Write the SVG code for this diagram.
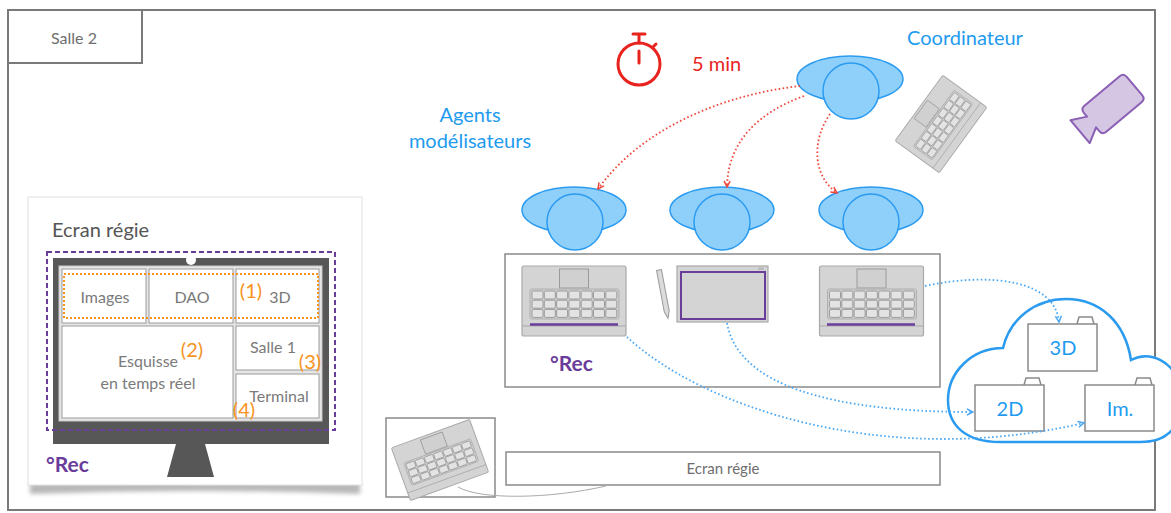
<svg xmlns="http://www.w3.org/2000/svg" width="1171" height="513" viewBox="0 0 1171 513">
  <defs>
    <style>
      text { font-family: Lato, "Open Sans", "Liberation Sans", sans-serif; }
      .frame { fill: none; stroke: #7a7a7a; stroke-width: 2; }
      .box { fill: #fff; stroke: #8a8a8a; stroke-width: 1.5; }
      .label { fill: #6e6e6e; }
      .screen-t { fill: #7a7a7a; font-size: 16px; }
      .blue-t { fill: #1e9bf0; font-size: 20px; }
      .orange-t { fill: #f7931e; font-size: 20px; }
      .rec { fill: #6a3d9a; font-size: 21px; font-weight: bold; }
      .person { fill: #8fd0fb; stroke: #2b9bf0; stroke-width: 1.5; }
      .red-dot { fill: none; stroke: #f0473a; stroke-width: 1.8; stroke-dasharray: 1.6 2.4; }
      .blue-dot { fill: none; stroke: #4aa8f5; stroke-width: 1.8; stroke-dasharray: 1.6 2.4; }
      .lap-body { fill: #d4d4d4; stroke: #a9a9a9; stroke-width: 1.2; }
      .key { fill: #e3e3e3; stroke: #9c9c9c; stroke-width: 1; }
      .folder { fill: #fff; stroke: #8a8a8a; stroke-width: 1.5; }
      .cell { fill: #fff; stroke: #9a9a9a; stroke-width: 1; }
      .rec-line { stroke: #6a3d9a; stroke-width: 2.5; }
    </style>
    <marker id="arrowRed" viewBox="0 0 8 8" refX="7" refY="4" markerWidth="8" markerHeight="8" orient="auto" markerUnits="userSpaceOnUse">
      <path d="M1,1 L7,4 L1,7" fill="none" stroke="#f0473a" stroke-width="1.5"/>
    </marker>
    <marker id="arrowBlue" viewBox="0 0 8 8" refX="7" refY="4" markerWidth="8" markerHeight="8" orient="auto" markerUnits="userSpaceOnUse">
      <path d="M1,1 L7,4 L1,7" fill="none" stroke="#4aa8f5" stroke-width="1.5"/>
    </marker>
    <filter id="soft" x="-10%" y="-100%" width="120%" height="300%">
      <feGaussianBlur stdDeviation="2"/>
    </filter>
    <!-- one row of seven keys -->
    <g id="keyRow">
      <rect class="key" x="-42" y="0" width="11" height="8" rx="1.5"/>
      <rect class="key" x="-29.7" y="0" width="11" height="8" rx="1.5"/>
      <rect class="key" x="-17.4" y="0" width="11" height="8" rx="1.5"/>
      <rect class="key" x="-5.1" y="0" width="11" height="8" rx="1.5"/>
      <rect class="key" x="7.2" y="0" width="11" height="8" rx="1.5"/>
      <rect class="key" x="19.5" y="0" width="11" height="8" rx="1.5"/>
      <rect class="key" x="31.8" y="0" width="11" height="8" rx="1.5"/>
    </g>
    <!-- open laptop seen from above, centred on the origin -->
    <g id="laptopBase">
      <rect class="lap-body" x="-52" y="-35" width="104" height="70" rx="2"/>
      <rect x="-14.5" y="-32" width="29" height="19" fill="#d0d0d0" stroke="#9a9a9a" stroke-width="1"/>
      <rect x="-44" y="-12" width="89" height="30" rx="2" fill="#cdcdcd" stroke="#b0b0b0" stroke-width="1"/>
      <use href="#keyRow" y="-10"/>
      <use href="#keyRow" y="-0.8"/>
      <use href="#keyRow" y="8.4"/>
      <line x1="-52" y1="25" x2="52" y2="25" stroke="#a9a9a9" stroke-width="1"/>
    </g>
  </defs>

  <!-- room outline -->
  <g id="room">
    <rect class="frame" x="8" y="10" width="1147" height="500"/>
  </g>
  <g id="salle2">
    <rect class="frame" x="8" y="10" width="134" height="53"/>
    <text class="label" x="74" y="44" font-size="16" text-anchor="middle">Salle 2</text>
  </g>

  <!-- control screen panel -->
  <g id="panel-ecran-regie">
    <path d="M30 483 L360 483 L360 494 Q195 488 30 494 Z" fill="#9a9a9a" opacity="0.7" filter="url(#soft)"/>
    <rect x="28" y="197" width="334" height="288" fill="#fff" stroke="#e0e0e0" stroke-width="1"/>
    <text x="52" y="237" font-size="20" fill="#555">Ecran régie</text>
    <rect x="53" y="258" width="276" height="186" fill="#575757"/>
    <circle cx="191" cy="260" r="5" fill="#fff"/>
    <polygon points="176,444 205,444 214,477 167,477" fill="#575757"/>
    <rect x="59" y="266" width="263" height="155" fill="#e6e6e6" stroke="#c8c8c8"/>
    <rect class="cell" x="62" y="269" width="84" height="54"/>
    <rect class="cell" x="149" y="269" width="84" height="54"/>
    <rect class="cell" x="236" y="269" width="83" height="54"/>
    <rect class="cell" x="62" y="326" width="171" height="92"/>
    <rect class="cell" x="236" y="326" width="83" height="44"/>
    <rect class="cell" x="236" y="374" width="83" height="44"/>
    <rect x="64" y="274" width="254" height="44" fill="none" stroke="#f7931e" stroke-width="2" stroke-dasharray="2 2"/>
    <rect x="47" y="252" width="288" height="178" fill="none" stroke="#6a3d9a" stroke-width="2" stroke-dasharray="5 3"/>
    <text class="screen-t" x="105" y="303" text-anchor="middle">Images</text>
    <text class="screen-t" x="192" y="303" text-anchor="middle">DAO</text>
    <text class="screen-t" x="280" y="303" text-anchor="middle">3D</text>
    <text class="orange-t" x="251" y="298" text-anchor="middle">(1)</text>
    <text class="screen-t" x="148" y="367" text-anchor="middle">Esquisse</text>
    <text class="screen-t" x="148" y="389" text-anchor="middle">en temps réel</text>
    <text class="orange-t" x="192" y="357" text-anchor="middle">(2)</text>
    <text class="screen-t" x="273" y="353" text-anchor="middle">Salle 1</text>
    <text class="orange-t" x="310" y="369" text-anchor="middle">(3)</text>
    <text class="screen-t" x="279" y="402" text-anchor="middle">Terminal</text>
    <text class="orange-t" x="244" y="417" text-anchor="middle">(4)</text>
    <text class="rec" x="46" y="472">°Rec</text>
  </g>

  <!-- timer -->
  <g id="timer" stroke="#e8231e" stroke-width="3" fill="none" stroke-linecap="round">
    <circle cx="639" cy="64" r="21"/>
    <line x1="639" y1="43" x2="639" y2="35"/>
    <line x1="633" y1="34" x2="645" y2="34"/>
    <line x1="653" y1="47" x2="656" y2="44"/>
    <line x1="639" y1="51" x2="639" y2="63"/>
  </g>
  <text id="duree" x="692" y="71" font-size="20" fill="#e8231e">5 min</text>

  <g id="label-coordinateur"><text class="blue-t" x="965" y="45" text-anchor="middle">Coordinateur</text></g>
  <g id="label-agents">
    <text class="blue-t" x="470" y="122" text-anchor="middle">Agents</text>
    <text class="blue-t" x="470" y="148" text-anchor="middle">modélisateurs</text>
  </g>

  <!-- people -->
  <g id="coordinateur">
    <ellipse class="person" cx="850" cy="79" rx="53" ry="23"/>
    <circle class="person" cx="851" cy="91" r="28"/>
  </g>
  <g id="agent-1">
    <ellipse class="person" cx="574" cy="210" rx="52" ry="23"/>
    <circle class="person" cx="575" cy="222" r="28"/>
  </g>
  <g id="agent-2">
    <ellipse class="person" cx="722" cy="210" rx="52" ry="23"/>
    <circle class="person" cx="722" cy="222" r="28"/>
  </g>
  <g id="agent-3">
    <ellipse class="person" cx="871" cy="210" rx="52" ry="23"/>
    <circle class="person" cx="871" cy="222" r="28"/>
  </g>

  <!-- coordinator laptop -->
  <g id="laptop-coordinateur">
    <use href="#laptopBase" transform="translate(941 124) rotate(-54) scale(0.78)"/>
  </g>

  <!-- camera -->
  <g id="camera">
    <path transform="translate(1113 104) rotate(-40)" d="M-23 -17 L23 -17 Q28 -17 28 -12 L28 12 Q28 17 23 17 L-23 17 Q-28 17 -28 12 L-28 7 L-43 15 L-43 -15 L-28 -7 L-28 -12 Q-28 -17 -23 -17 Z" fill="#d5c6e4" stroke="#8a5fb5" stroke-width="2" stroke-linejoin="round"/>
  </g>

  <!-- work desk -->
  <g id="bureau">
    <rect class="box" x="505" y="254" width="435" height="133"/>
    <text class="rec" x="550" y="371">°Rec</text>
  </g>
  <g id="laptop-1">
    <use href="#laptopBase" transform="translate(574 301)"/>
    <line class="rec-line" x1="530" y1="324.5" x2="618" y2="324.5"/>
  </g>
  <g id="tablette">
    <rect class="lap-body" x="677" y="266" width="91" height="56"/>
    <rect x="681" y="272" width="84" height="47" fill="#d4d4d4" stroke="#6a3d9a" stroke-width="2"/>
    <rect x="758" y="267.5" width="6" height="2.5" fill="#bbb"/>
    <path transform="translate(659 270) rotate(-10.6)" d="M-2.5 0 L2.5 0 L2.5 42 L0 49 L-2.5 42 Z" fill="#dcdcdc" stroke="#999" stroke-width="1"/>
  </g>
  <g id="laptop-3">
    <use href="#laptopBase" transform="translate(871.5 301)"/>
    <line class="rec-line" x1="827" y1="324.5" x2="915" y2="324.5"/>
  </g>

  <!-- storage cloud -->
  <g id="cloud">
    <path d="M1000 442 C965 442 948 425 948 400 C948 372 972 348 1003 348 C1010 318 1036 299 1066 299 C1100 299 1125 322 1131 360 C1150 350 1175 362 1178 385 L1178 420 C1172 435 1160 442 1140 442 Z" fill="#fff" stroke="#2b9bf0" stroke-width="2.5"/>
  </g>
  <g id="dossier-3d">
    <path class="folder" d="M1077 324 L1079 317 L1092 317 L1094 324"/>
    <rect class="folder" x="1028" y="324" width="69" height="47"/>
    <text class="blue-t" x="1063" y="355" font-size="21" text-anchor="middle">3D</text>
  </g>
  <g id="dossier-2d">
    <path class="folder" d="M1024 385 L1026 378 L1039 378 L1041 385"/>
    <rect class="folder" x="975" y="385" width="69" height="46"/>
    <text class="blue-t" x="1010" y="416" font-size="21" text-anchor="middle">2D</text>
  </g>
  <g id="dossier-im">
    <path class="folder" d="M1135 385 L1137 378 L1150 378 L1152 385"/>
    <rect class="folder" x="1085" y="385" width="69" height="46"/>
    <text class="blue-t" x="1120" y="416" font-size="21" text-anchor="middle">Im.</text>
  </g>

  <!-- control station -->
  <g id="poste-regie">
    <rect class="box" x="386" y="418" width="109" height="79"/>
    <use href="#laptopBase" transform="translate(440 460) rotate(-20) scale(0.8)"/>
  </g>
  <g id="ecran-regie">
    <rect class="box" x="506" y="452" width="434" height="33"/>
    <text class="label" x="723" y="474" font-size="15" text-anchor="middle">Ecran régie</text>
  </g>

  <!-- connectors -->
  <g id="connectors">
    <path class="red-dot" d="M800 86 C720 95 640 130 598 189" marker-end="url(#arrowRed)"/>
    <path class="red-dot" d="M804 96 C760 112 728 140 727 187" marker-end="url(#arrowRed)"/>
    <path class="red-dot" d="M830 114 C812 140 812 175 837 193" marker-end="url(#arrowRed)"/>
    <path class="blue-dot" d="M925 286 C990 272 1055 280 1059 322" marker-end="url(#arrowBlue)"/>
    <path class="blue-dot" d="M727 323 C738 385 830 412 973 412" marker-end="url(#arrowBlue)"/>
    <path class="blue-dot" d="M627 337 C700 405 880 470 1084 423" marker-end="url(#arrowBlue)"/>
    <path d="M458 487 C480 500 550 499 606 486" fill="none" stroke="#aaa" stroke-width="1"/>
  </g>
</svg>
